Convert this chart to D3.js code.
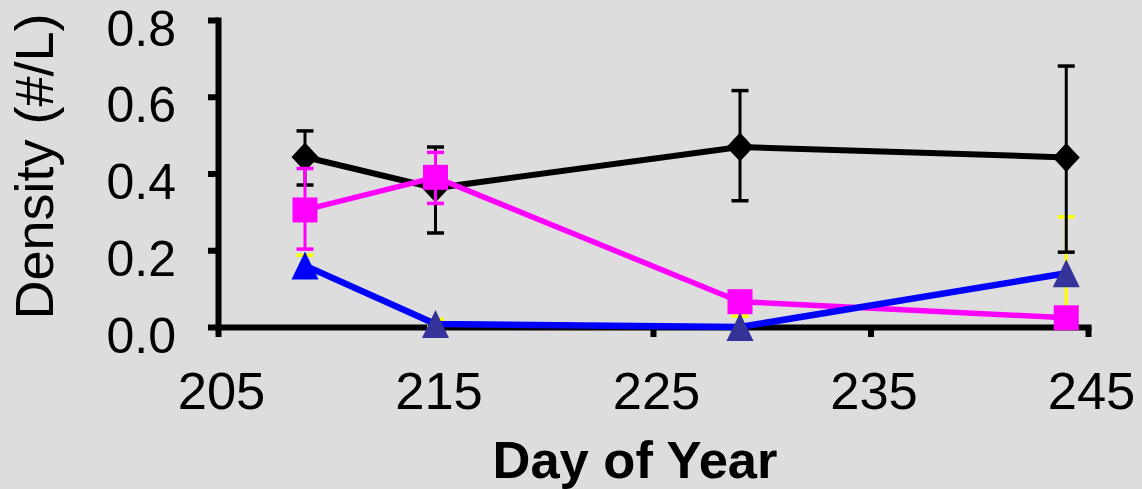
<!DOCTYPE html>
<html>
<head>
<meta charset="utf-8">
<script src="https://cdn.jsdelivr.net/npm/d3@7"></script>
<style>
  html, body { margin: 0; padding: 0; background: #dddddd; }
  svg { display: block; }
  text { font-family: "Liberation Sans", Arial, sans-serif; fill: #000; }
</style>
</head>
<body>
<svg id="chart" width="1142" height="489"></svg>
<script>
// Sampling days
const days = [209, 215, 229, 244];

// Series 1 (diamonds): mean density and error bar bounds
const diamondMean = [0.443, 0.362, 0.469, 0.442];
const diamondHigh = [0.511, 0.469, 0.616, 0.680];
const diamondLow  = [0.370, 0.245, 0.329, 0.195];

// Series 2 (squares)
const squareMean = [0.305, 0.390, 0.066, 0.024];
const squareHigh = [0.413, 0.455, 0.090, 0.030];
const squareLow  = [0.203, 0.322, -0.025, 0.020];

// Series 3 (triangles)
const triMean = [0.160, 0.008, 0.000, 0.140];
const triHigh = [0.187, 0.020, 0.028, 0.287];
const triLow  = [0.135, 0.000, 0.000, 0.000];

// Axis ticks
const xTicks = [205, 215, 225, 235, 245];
const yTicks = [0.0, 0.2, 0.4, 0.6, 0.8];

const svg = d3.select("#chart");

const x = d3.scaleLinear().domain([205, 245]).range([218, 1088]);
const y = d3.scaleLinear().domain([0, 0.8]).range([327, 20]);

// Axes
const yAxis = d3.axisLeft(y)
  .tickValues(yTicks)
  .tickFormat(d3.format(".1f"))
  .tickSize(10)
  .tickSizeOuter(0)
  .tickPadding(32);

const xAxis = d3.axisBottom(x)
  .tickValues(xTicks)
  .tickFormat(d3.format("d"))
  .tickSize(10)
  .tickSizeOuter(0)
  .tickPadding(35);

const gy = svg.append("g").attr("transform", `translate(${x(205)},0)`).call(yAxis);
gy.selectAll("text").attr("dy", "0.5em").style("font-size", "50px");

const gx = svg.append("g").attr("transform", `translate(0,${y(0)})`).call(xAxis);
gx.selectAll("text").attr("dx", 3).style("font-size", "52.5px");

svg.selectAll(".domain")
  .style("stroke", "#000")
  .style("stroke-width", "6px")
  .style("stroke-linecap", "square");
svg.selectAll(".tick line")
  .style("stroke", "#000")
  .style("stroke-width", "6px");

// Axis titles
svg.append("text")
  .attr("x", (x(205) + x(245)) / 2 - 18)
  .attr("y", 478)
  .attr("text-anchor", "middle")
  .style("font-size", "52.5px")
  .style("font-weight", "bold")
  .text("Day of Year");

svg.append("text")
  .attr("transform", `translate(53,${(y(0) + y(0.8)) / 2 - 7}) rotate(-90)`)
  .attr("text-anchor", "middle")
  .style("font-size", "54px")
  .text("Density (#/L)");

// Helpers
const rows = (mean, hi, lo) => days.map((d, i) => ({ d, m: mean[i], hi: hi[i], lo: lo[i], i }));
const line = d3.line().x(p => x(p.d)).y(p => y(p.m));

function errorBars(data, color) {
  const g = svg.append("g").style("stroke", color);
  g.selectAll("line.stem").data(data).join("line")
    .attr("x1", p => x(p.d)).attr("x2", p => x(p.d))
    .attr("y1", p => y(p.hi)).attr("y2", p => y(p.lo))
    .style("stroke-width", "3px");
  const caps = data.flatMap(p => [{ d: p.d, v: p.hi }, { d: p.d, v: p.lo }]);
  g.selectAll("line.cap").data(caps).join("line")
    .attr("x1", c => x(c.d) - 8.5).attr("x2", c => x(c.d) + 8.5)
    .attr("y1", c => y(c.v)).attr("y2", c => y(c.v))
    .style("stroke-width", "3.5px");
}

const diamonds = rows(diamondMean, diamondHigh, diamondLow);
const squares = rows(squareMean, squareHigh, squareLow);
const tris = rows(triMean, triHigh, triLow);

// Triangle series error bars sit underneath the rest
errorBars(tris, "#ffff00");

// Diamond series
errorBars(diamonds, "#000000");
svg.append("path").datum(diamonds).attr("d", line)
  .style("fill", "none").style("stroke", "#000").style("stroke-width", "6px");
svg.selectAll("path.diamond").data(diamonds).join("path")
  .attr("d", p => {
    const cx = x(p.d), cy = y(p.m);
    return `M${cx},${cy - 14.5}L${cx + 13.5},${cy}L${cx},${cy + 14.5}L${cx - 13.5},${cy}Z`;
  })
  .style("fill", "#000");

// Square series
errorBars(squares, "#ff00ff");
svg.append("path").datum(squares).attr("d", line)
  .style("fill", "none").style("stroke", "#ff00ff").style("stroke-width", "5.5px");
svg.selectAll("rect.square").data(squares).join("rect")
  .attr("x", p => x(p.d) - 12.5).attr("y", p => y(p.m) - 12.5)
  .attr("width", 25).attr("height", 25)
  .style("fill", "#ff00ff");

// Triangle series
svg.append("path").datum(tris).attr("d", line)
  .style("fill", "none").style("stroke", "#0000ff").style("stroke-width", "6.5px");
svg.selectAll("path.tri").data(tris).join("path")
  .attr("d", p => {
    const cx = x(p.d), cy = y(p.m);
    return `M${cx},${cy - 14}L${cx + 13.5},${cy + 14}L${cx - 13.5},${cy + 14}Z`;
  })
  .style("fill", p => p.i === 0 ? "#0000ff" : "#333399");
</script>
</body>
</html>
